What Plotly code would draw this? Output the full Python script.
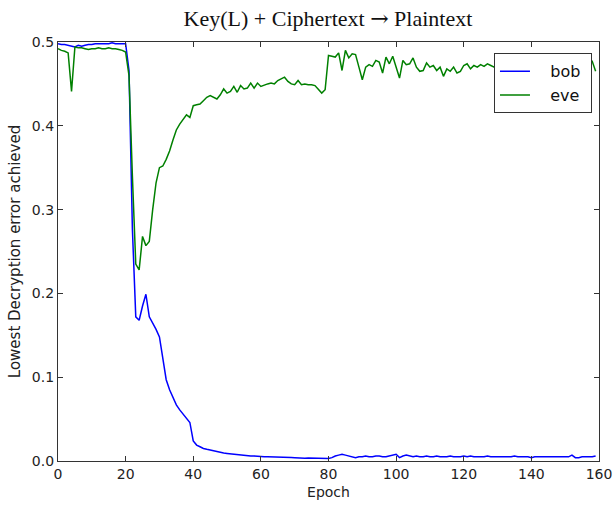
import plotly.graph_objects as go

epochs = list(range(160))

bob = [
    0.498, 0.497, 0.497, 0.496, 0.495, 0.494, 0.496, 0.495, 0.496, 0.497,
    0.497, 0.498, 0.498, 0.498, 0.498, 0.498, 0.499, 0.498, 0.498, 0.498,
    0.498, 0.466, 0.277, 0.172, 0.168, 0.185, 0.199, 0.172, 0.165, 0.157,
    0.148, 0.125, 0.097, 0.085, 0.075, 0.067, 0.061, 0.056, 0.052, 0.046,
    0.024, 0.019, 0.017, 0.015, 0.014, 0.013, 0.012, 0.011, 0.010, 0.0095,
    0.009, 0.0085, 0.008, 0.0075, 0.007, 0.007, 0.0065, 0.006, 0.006, 0.0055,
    0.0055, 0.005, 0.005, 0.005, 0.0048, 0.0046, 0.0045, 0.0044, 0.0043, 0.0042,
    0.004, 0.0035, 0.003, 0.0033, 0.0035, 0.0035, 0.0034, 0.0035, 0.0034, 0.0032,
    0.003, 0.004, 0.006, 0.007, 0.008, 0.007, 0.006, 0.005, 0.004, 0.005,
    0.005, 0.006, 0.005, 0.005, 0.006, 0.006, 0.005, 0.005, 0.006, 0.007,
    0.008, 0.004, 0.006, 0.007, 0.006, 0.005, 0.006, 0.005, 0.005, 0.006,
    0.005, 0.005, 0.006, 0.005, 0.005, 0.005, 0.006, 0.005, 0.005, 0.005,
    0.006, 0.005, 0.006, 0.005, 0.005, 0.005, 0.005, 0.006, 0.005, 0.005,
    0.005, 0.005, 0.005, 0.005, 0.005, 0.006, 0.005, 0.005, 0.005, 0.005,
    0.004, 0.005, 0.005, 0.005, 0.005, 0.005, 0.005, 0.005, 0.005, 0.005,
    0.005, 0.005, 0.007, 0.004, 0.004, 0.005, 0.005, 0.005, 0.005, 0.006,
]

eve = [
    0.492, 0.490, 0.489, 0.487, 0.441, 0.494, 0.493, 0.493, 0.492, 0.491,
    0.492, 0.492, 0.493, 0.492, 0.492, 0.493, 0.492, 0.492, 0.491, 0.490,
    0.488, 0.460, 0.340, 0.235, 0.228, 0.268, 0.257, 0.262, 0.300, 0.332,
    0.350, 0.352, 0.360, 0.370, 0.383, 0.395, 0.402, 0.408, 0.413, 0.410,
    0.424, 0.425, 0.426, 0.430, 0.434, 0.436, 0.434, 0.432, 0.437, 0.444,
    0.439, 0.441, 0.447, 0.440, 0.448, 0.444, 0.445, 0.451, 0.445, 0.451,
    0.447, 0.449, 0.450, 0.451, 0.450, 0.454, 0.456, 0.458, 0.453, 0.450,
    0.449, 0.454, 0.449, 0.450, 0.449, 0.449, 0.448, 0.443, 0.439, 0.443,
    0.484, 0.483, 0.482, 0.487, 0.466, 0.490, 0.481, 0.486, 0.485, 0.470,
    0.455, 0.470, 0.473, 0.471, 0.478, 0.476, 0.463, 0.482, 0.474, 0.483,
    0.470, 0.457, 0.478, 0.473, 0.474, 0.481, 0.470, 0.465, 0.466, 0.475,
    0.470, 0.472, 0.466, 0.470, 0.459, 0.468, 0.465, 0.470, 0.463, 0.465,
    0.472, 0.474, 0.468, 0.472, 0.470, 0.473, 0.471, 0.474, 0.472, 0.470,
    0.473, 0.471, 0.469, 0.472, 0.474, 0.470, 0.468, 0.472, 0.471, 0.473,
    0.470, 0.472, 0.469, 0.471, 0.474, 0.470, 0.472, 0.471, 0.468, 0.472,
    0.473, 0.470, 0.471, 0.474, 0.472, 0.470, 0.472, 0.475, 0.477, 0.465,
]

x_ticks = [0, 20, 40, 60, 80, 100, 120, 140, 160]
y_ticks = [0.0, 0.1, 0.2, 0.3, 0.4, 0.5]
y_tick_labels = ["0.0", "0.1", "0.2", "0.3", "0.4", "0.5"]

fig = go.Figure()
fig.add_trace(go.Scatter(x=epochs, y=bob, mode="lines",
                         name="\u00a0\u00a0\u00a0bob\u00a0",
                         line=dict(color="#0000ff", width=1.5)))
fig.add_trace(go.Scatter(x=epochs, y=eve, mode="lines",
                         name="\u00a0\u00a0\u00a0eve\u00a0",
                         line=dict(color="#008000", width=1.5)))

axis_common = dict(
    showline=True, linecolor="#333333", linewidth=1.2, mirror="allticks",
    ticks="inside", ticklen=5, tickcolor="#333333", tickwidth=1,
    showgrid=False, zeroline=False, automargin=False,
    tickfont=dict(family="DejaVu Sans", size=14, color="#222222"),
)

fig.update_layout(
    width=613, height=506,
    margin=dict(l=58, r=14, t=42, b=45),
    paper_bgcolor="white", plot_bgcolor="white",
    title=dict(text="Key(L) + Ciphertext <span style='font-family:DejaVu Serif'>\u2192</span> Plaintext",
               font=dict(family="Liberation Serif", size=22, color="#111111"),
               x=0.535, xanchor="center", y=0.964, yanchor="middle"),
    xaxis=dict(range=[0, 160], tickvals=x_ticks,
               title=dict(text="Epoch", font=dict(family="DejaVu Sans", size=14, color="#222222"),
                          standoff=6),
               **axis_common),
    yaxis=dict(range=[0, 0.5], tickvals=y_ticks, ticktext=y_tick_labels,
               title=dict(text="Lowest Decryption error achieved",
                          font=dict(family="DejaVu Sans", size=15, color="#222222"),
                          standoff=7),
               **axis_common),
    legend=dict(x=0.987, y=0.973, xanchor="right", yanchor="top",
                bgcolor="white", bordercolor="#333333", borderwidth=1,
                font=dict(family="DejaVu Sans", size=16, color="#111111"),
                itemwidth=30),
    showlegend=True,
)

fig.write_html("out.html",
               config={"displayModeBar": False},
               post_script="document.body.style.margin='0';document.body.style.overflow='hidden';")
